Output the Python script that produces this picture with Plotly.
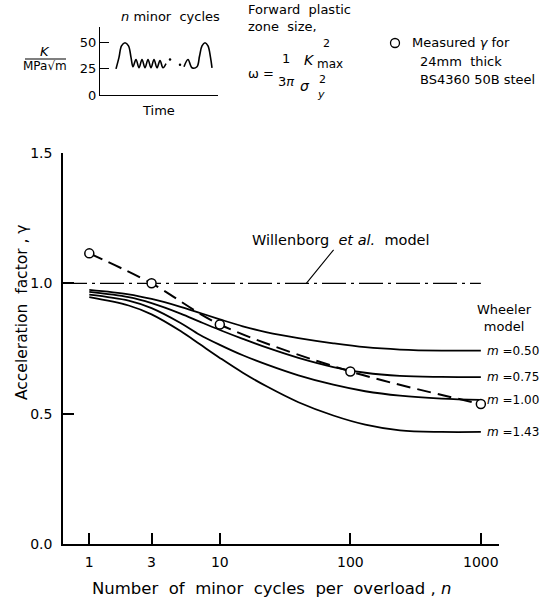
import math
import plotly.graph_objects as go

# ---- data -------------------------------------------------------------
N_GRID = [1, 2, 3, 5, 7, 10, 15, 23, 40, 74, 130, 240, 500, 1000]

WHEELER_M = ["0.50", "0.75", "1.00", "1.43"]
WHEELER_050 = [0.975, 0.958, 0.940, 0.910, 0.887, 0.862, 0.835, 0.812, 0.790, 0.770, 0.755, 0.746, 0.742, 0.742]
WHEELER_075 = [0.967, 0.947, 0.924, 0.884, 0.853, 0.821, 0.787, 0.753, 0.714, 0.679, 0.657, 0.645, 0.641, 0.640]
WHEELER_100 = [0.957, 0.934, 0.905, 0.848, 0.803, 0.764, 0.724, 0.688, 0.647, 0.611, 0.586, 0.569, 0.558, 0.553]
WHEELER_143 = [0.947, 0.915, 0.881, 0.817, 0.767, 0.714, 0.657, 0.604, 0.544, 0.493, 0.458, 0.436, 0.430, 0.430]

N_MEASURED = [1, 3, 10, 100, 1000]
GAMMA_MEASURED = [1.115, 1.0, 0.842, 0.662, 0.537]

WILLENBORG_GAMMA = 1.0
WILLENBORG_POINTER_N = 46

X_TICKS = [1, 3, 10, 100, 1000]
X_TICK_TEXT = ["1", "3", "10", "100", "1000"]
Y_TICKS = [0, 0.5, 1.0, 1.5]
Y_TICK_TEXT = ["0.0", "0.5", "1.0", "1.5"]

# load history sketch: one overload, n minor cycles, then another overload
SIG_T = [16, 19, 21.5, 25, 28.5, 31, 33, 36, 39, 42, 45, 48, 51, 54, 57, 60, 63, 66]
SIG_K = [25, 36, 47, 50, 47, 36, 27, 34, 26, 34, 26, 34, 26, 34, 26, 33, 26, 30]
SIG2_T = [84, 88, 92, 97, 99.5, 102, 105, 108, 110.5, 112]
SIG2_K = [27, 34, 26, 27, 37, 47, 50, 47, 36, 26]
DOTS_T = [70, 80]
DOTS_K = [34, 29]
INSET_TICKS = [0, 25, 50]

# ---- geometry helpers (figure pixels -> paper fractions) --------------
W, H = 541, 598
FONT = "DejaVu Sans"


def px(x):
    return x / W


def py(y):
    return 1 - y / H


X_RANGE = [-0.2015, 3.139]

fig = go.Figure()

# Wheeler model curves
for vals in (WHEELER_050, WHEELER_075, WHEELER_100, WHEELER_143):
    fig.add_trace(go.Scatter(
        x=N_GRID, y=vals, mode="lines",
        line=dict(color="black", width=1.8, shape="spline", smoothing=1.0),
        hoverinfo="skip", showlegend=False))

# Willenborg et al. model
fig.add_trace(go.Scatter(
    x=[10 ** X_RANGE[0], N_GRID[-1]], y=[WILLENBORG_GAMMA, WILLENBORG_GAMMA],
    mode="lines", line=dict(color="black", width=1.3, dash="24px,5px,3px,5px"),
    hoverinfo="skip", showlegend=False))

# measured acceleration factors
fig.add_trace(go.Scatter(
    x=N_MEASURED, y=GAMMA_MEASURED, mode="lines+markers",
    line=dict(color="black", width=2, dash="14px,7px", shape="spline", smoothing=0.9),
    marker=dict(symbol="circle", size=9, color="white", line=dict(color="black", width=1.5)),
    hoverinfo="skip", showlegend=False))

# inset load history
for t, k in ((SIG_T, SIG_K), (SIG2_T, SIG2_K)):
    fig.add_trace(go.Scatter(
        x=t, y=k, xaxis="x2", yaxis="y2", mode="lines",
        line=dict(color="black", width=1.6, shape="spline", smoothing=1.0),
        hoverinfo="skip", showlegend=False))
fig.add_trace(go.Scatter(
    x=DOTS_T, y=DOTS_K, xaxis="x2", yaxis="y2", mode="markers",
    marker=dict(color="black", size=2.5),
    hoverinfo="skip", showlegend=False))

tick_font = dict(family=FONT, size=14, color="black")

fig.update_layout(
    width=W, height=H,
    margin=dict(l=0, r=0, t=0, b=0, pad=0),
    paper_bgcolor="white", plot_bgcolor="white",
    font=dict(family=FONT, color="black"),
    xaxis=dict(
        type="log", range=X_RANGE, domain=[px(63), px(499)],
        showline=True, linecolor="black", linewidth=1.5,
        ticks="inside", ticklen=11, tickwidth=1.5, tickcolor="black",
        tickvals=X_TICKS, ticktext=X_TICK_TEXT, tickfont=tick_font,
        ticklabelstandoff=4, automargin=False,
        showgrid=False, zeroline=False, anchor="y"),
    yaxis=dict(
        range=[0, 1.5], domain=[py(544), py(153)],
        showline=True, linecolor="black", linewidth=1.5,
        ticks="inside", ticklen=11, tickwidth=1.5, tickcolor="black",
        tickvals=Y_TICKS, ticktext=Y_TICK_TEXT, tickfont=tick_font,
        ticklabelstandoff=6, automargin=False,
        showgrid=False, zeroline=False, anchor="x"),
    xaxis2=dict(
        range=[0, 118], domain=[px(100), px(218)], anchor="y2",
        showline=True, linecolor="black", linewidth=1.3, automargin=False,
        ticks="", showticklabels=False, showgrid=False, zeroline=False),
    yaxis2=dict(
        range=[0, 65], domain=[py(95), py(27)], anchor="x2",
        showline=True, linecolor="black", linewidth=1.3, automargin=False,
        ticks="inside", ticklen=9, tickwidth=1.2, tickcolor="black",
        tickvals=INSET_TICKS, ticktext=[str(v) for v in INSET_TICKS],
        tickfont=dict(family=FONT, size=13, color="black"),
        showgrid=False, zeroline=False),
)

ann = []


def text(x, y, s, size=13, xanchor="center", yanchor="middle", **kw):
    ann.append(dict(xref="paper", yref="paper", x=px(x), y=py(y), text=s,
                    showarrow=False, xanchor=xanchor, yanchor=yanchor,
                    font=dict(family=FONT, size=size, color="black"), **kw))


NB = "\u00a0"
# axis titles
text(272, 588, f"Number{NB}{NB}of{NB}{NB}minor{NB}{NB}cycles{NB}{NB}per{NB}{NB}overload{NB},{NB}<i>n</i>", size=16.5)
text(22, 312, f"Acceleration{NB}{NB}factor{NB},{NB}γ", size=15.5, textangle=-90)

# Willenborg label with leader line
ann.append(dict(xref="x", yref="y", x=math.log10(WILLENBORG_POINTER_N), y=WILLENBORG_GAMMA,
                text=f"Willenborg{NB}{NB}<i>et{NB}al.</i>{NB}{NB}model",
                showarrow=True, arrowhead=0, arrowwidth=1.1, arrowcolor="black",
                ax=35, ay=-43, xanchor="center", yanchor="middle",
                font=dict(family=FONT, size=14.5, color="black")))

# Wheeler labels
text(504, 318, "Wheeler<br>model", size=13)
for m, vals in zip(WHEELER_M, (WHEELER_050, WHEELER_075, WHEELER_100, WHEELER_143)):
    ann.append(dict(xref="x", yref="y", x=math.log10(N_GRID[-1]), y=vals[-1],
                    text=f"<i>m</i>{NB}={m}", showarrow=False, xanchor="left",
                    yanchor="middle", xshift=4,
                    font=dict(family=FONT, size=12, color="black")))

# inset labels
text(45, 52, "<i>K</i>", size=13)
text(45, 66, "MPa√m", size=12)
text(158, 110, "Time", size=13)
text(170, 17, f"<i>n</i>{NB}minor{NB}{NB}cycles", size=13)

# plastic zone formula
text(246, 10, f"Forward{NB}{NB}plastic", size=13, xanchor="left")
text(246, 27, f"zone{NB}{NB}size,", size=13, xanchor="left")
text(246, 73, "ω =", size=13, xanchor="left")
text(286, 58, "1", size=13)
text(286, 81, "3<i>π</i>", size=13)
text(309, 60, "<i>K</i>", size=14)
text(326, 44, "2", size=11)
text(330, 64, "max", size=12)
text(305, 86, "<i>σ</i>", size=14)
text(322, 79, "2", size=11)
text(321, 94, "<i>y</i>", size=11)

# measured-data key
text(410, 43, f"Measured{NB}<i>γ</i>{NB}for", size=13, xanchor="left")
text(418, 61, f"24mm{NB}{NB}thick", size=13, xanchor="left")
text(418, 79, f"BS4360{NB}50B{NB}steel", size=13, xanchor="left")

fig.update_layout(annotations=ann)

# fraction bar of the K label and the key circle
fig.add_shape(type="line", xref="paper", yref="paper",
              x0=px(25), x1=px(66), y0=py(59), y1=py(59),
              line=dict(color="black", width=1.2))
fig.add_shape(type="circle", xref="paper", yref="paper",
              xsizemode="pixel", ysizemode="pixel",
              xanchor=px(395), yanchor=py(43),
              x0=-4.5, x1=4.5, y0=-4.5, y1=4.5,
              line=dict(color="black", width=1.3), fillcolor="white")

fig.write_html(
    "out.html",
    post_script="document.body.style.margin='0';document.body.style.overflow='hidden';",
)
